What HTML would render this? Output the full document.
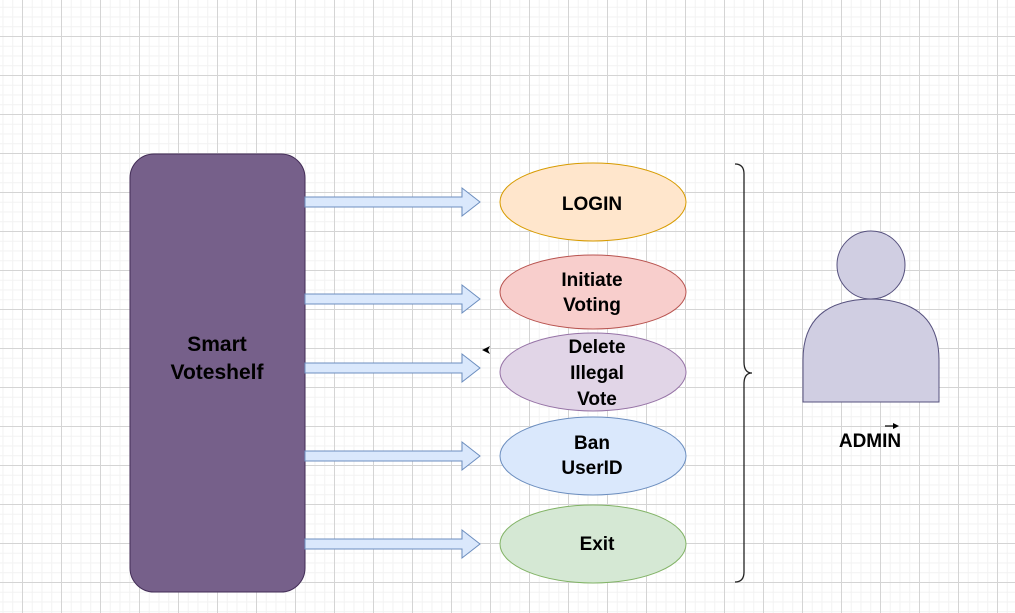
<!DOCTYPE html>
<html><head><style>
body{margin:0;width:1015px;height:613px;overflow:hidden;background:#fff;
background-image:
linear-gradient(to right,#d4d4d4 1px,transparent 1px),
linear-gradient(to bottom,#d4d4d4 1px,transparent 1px),
linear-gradient(to right,#f2f2f2 1px,transparent 1px),
linear-gradient(to bottom,#f2f2f2 1px,transparent 1px);
background-size:39px 39px,39px 39px,9.75px 9.75px,9.75px 9.75px;
background-position:22px 36px,22px 36px,22px 36px,22px 36px;}
svg{position:absolute;left:0;top:0}
text{font-family:"Liberation Sans",sans-serif;font-weight:bold;text-anchor:middle;fill:#000}
</style></head><body>
<svg width="1015" height="613">
<rect x="130" y="154" width="175" height="438" rx="24" fill="#76608a" stroke="#432d57"/>
<text x="217" y="351" font-size="21">Smart</text>
<text x="217" y="379" font-size="21">Voteshelf</text>
<g fill="#dae8fc" stroke="#6c8ebf" stroke-width="1">
<path d="M305 197H462V188L480 202L462 216V207H305Z"/>
<path d="M305 294H462V285L480 299L462 313V304H305Z"/>
<path d="M305 363H462V354L480 368L462 382V373H305Z"/>
<path d="M305 451H462V442L480 456L462 470V461H305Z"/>
<path d="M305 539H462V530L480 544L462 558V549H305Z"/>
</g>
<path d="M482 350L490 346L488 350L490 354Z" fill="#000"/>
<ellipse cx="593" cy="202" rx="93" ry="39" fill="#ffe6cc" stroke="#d79b00"/>
<ellipse cx="593" cy="292" rx="93" ry="37" fill="#f8cecc" stroke="#b85450"/>
<ellipse cx="593" cy="372" rx="93" ry="39" fill="#e1d5e7" stroke="#9673a6"/>
<ellipse cx="593" cy="456" rx="93" ry="39" fill="#dae8fc" stroke="#6c8ebf"/>
<ellipse cx="593" cy="544" rx="93" ry="39" fill="#d5e8d4" stroke="#82b366"/>
<text x="592" y="210" font-size="19">LOGIN</text>
<text x="592" y="286" font-size="19">Initiate</text>
<text x="592" y="311" font-size="19">Voting</text>
<text x="597" y="353" font-size="19">Delete</text>
<text x="597" y="379" font-size="19">Illegal</text>
<text x="597" y="405" font-size="19">Vote</text>
<text x="592" y="449" font-size="19">Ban</text>
<text x="592" y="474" font-size="19">UserID</text>
<text x="597" y="550" font-size="19">Exit</text>
<path d="M735 164Q744 164 744 174V362Q744 373 752 373Q744 373 744 384V572Q744 582 735 582" fill="none" stroke="#222" stroke-width="1.3"/>
<circle cx="871" cy="265" r="34" fill="#d0cee2" stroke="#56517e"/>
<path d="M803 402V360Q803 300 871 299Q939 300 939 360V402Z" fill="#d0cee2" stroke="#56517e"/>
<path d="M885 426H896" stroke="#000" stroke-width="1.2"/><path d="M899 426L893 423V429Z" fill="#000"/>
<text x="870" y="447" font-size="19">ADMIN</text>
</svg>
</body></html>
